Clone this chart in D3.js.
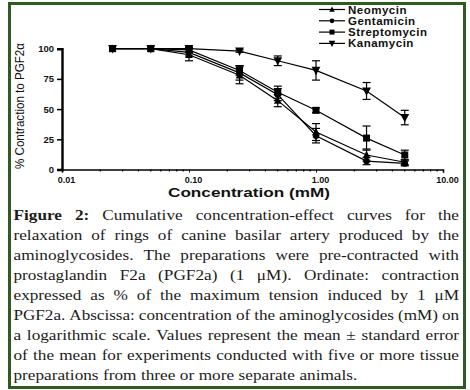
<!DOCTYPE html>
<html>
<head>
<meta charset="utf-8">
<script src="https://cdn.jsdelivr.net/npm/d3@7"></script>
<style>
  body { margin: 0; background: #fff; }
  svg { display: block; }
</style>
</head>
<body>
<svg id="chart" width="470" height="390"></svg>
<script>
// concentrations (mM)
const conc = [0.025, 0.05, 0.1, 0.25, 0.5, 1, 2.5, 5]

// % contraction to PGF2a, mean and s.e.m.
const neomycin = [100, 100, 95, 78, 57, 31, 12, 6]
const neomycinErr = [0, 0, 5, 7, 5, 7, 5, 2]
const gentamicin = [100, 100, 97, 80, 62, 28, 7, 5]
const gentamicinErr = [0, 0, 3, 6, 5, 6, 3, 2]
const streptomycin = [100, 100, 99, 82, 64, 49, 26, 12]
const streptomycinErr = [0, 0, 2, 4, 5, 2, 10, 4]
const kanamycin = [100, 100, 100, 98, 90, 82, 65, 43]
const kanamycinErr = [0, 0, 0, 1, 4, 8, 7, 6]

const seriesNames = ['Neomycin', 'Gentamicin', 'Streptomycin', 'Kanamycin']
const seriesSymbols = ['triangle', 'circle', 'square', 'triangleDown']
const seriesValues = [neomycin, gentamicin, streptomycin, kanamycin]
const seriesErrors = [neomycinErr, gentamicinErr, streptomycinErr, kanamycinErr]

const xTicks = [0.01, 0.1, 1, 10]
const xTickLabels = ['0.01', '0.10', '1.00', '10.00']
const yTicks = [0, 25, 50, 75, 100]

const captionLines = [
	'Figure 2: Cumulative concentration-effect curves for the',
	'relaxation of rings of canine basilar artery produced by the',
	'aminoglycosides. The preparations were pre-contracted with',
	'prostaglandin F2a (PGF2a) (1 μM). Ordinate: contraction',
	'expressed as % of the maximum tension induced by 1 μM',
	'PGF2a. Abscissa: concentration of the aminoglycosides (mM) on',
	'a logarithmic scale. Values represent the mean ± standard error',
	'of the mean for experiments conducted with five or more tissue',
	'preparations from three or more separate animals.'
]

const svg = d3.select('#chart')

// frame
svg.append('rect')
	.attr('x', 9.5).attr('y', 3.5)
	.attr('width', 455).attr('height', 384)
	.attr('fill', 'none')
	.attr('stroke', '#2f5a22')
	.attr('stroke-width', 3)

// scales
const x = d3.scaleLog().domain([0.01, 10]).range([62, 443])
const y = d3.scaleLinear().domain([0, 100]).range([169.5, 48.7])

const plot = svg.append('g')

// x axis: majors + log minors
const xAxis = d3.axisBottom(x)
	.tickValues(xTicks)
	.tickFormat((d, i) => xTickLabels[i])
	.tickSize(3)
	.tickPadding(4)
const gx = plot.append('g')
	.attr('transform', `translate(0,${y(0)})`)
	.call(xAxis)
gx.select('.domain').attr('stroke', '#000').attr('stroke-width', 1.6)
gx.selectAll('text')
	.attr('font-family', 'Liberation Sans, Arial, sans-serif')
	.attr('font-weight', 'bold')
	.attr('font-size', 9)
	.attr('dx', 4)
	.attr('fill', '#111')

const minors = []
for (const d of [0.01, 0.1, 1]) {
	for (let k = 2; k <= 9; k++) minors.push(d * k)
}
gx.selectAll('.minor')
	.data(minors)
	.enter()
	.append('line')
	.attr('class', 'minor')
	.attr('x1', (d) => x(d)).attr('x2', (d) => x(d))
	.attr('y1', 0).attr('y2', 2)
	.attr('stroke', '#000')
	.attr('stroke-width', 1.2)

// y axis
const yAxis = d3.axisLeft(y)
	.tickValues(yTicks)
	.tickSize(5)
	.tickPadding(3)
const gy = plot.append('g')
	.attr('transform', `translate(${x(0.01)},0)`)
	.call(yAxis)
gy.select('.domain').attr('stroke', '#000').attr('stroke-width', 2.4)
gy.selectAll('.tick line').attr('stroke-width', 1.5)
gy.selectAll('text')
	.attr('font-family', 'Liberation Sans, Arial, sans-serif')
	.attr('font-weight', 'bold')
	.attr('font-size', 9.5)
	.attr('fill', '#111')

// axis titles
svg.append('text')
	.attr('x', 249).attr('y', 197)
	.attr('text-anchor', 'middle')
	.attr('font-family', 'Liberation Sans, Arial, sans-serif')
	.attr('font-weight', 'bold')
	.attr('font-size', 13)
	.attr('textLength', 162)
	.attr('lengthAdjust', 'spacingAndGlyphs')
	.attr('fill', '#111')
	.text('Concentration (mM)')

svg.append('text')
	.attr('transform', 'translate(24,106) rotate(-90)')
	.attr('text-anchor', 'middle')
	.attr('font-family', 'Liberation Sans Narrow, Liberation Sans, Arial, sans-serif')
	.attr('font-size', 13)
	.attr('textLength', 126)
	.attr('lengthAdjust', 'spacingAndGlyphs')
	.attr('fill', '#111')
	.text('% Contraction to PGF2α')

// symbols
const symbolPath = (name, size) => {
	const s = size
	if (name === 'square') return `M${-s / 2},${-s / 2}h${s}v${s}h${-s}Z`
	if (name === 'circle') return d3.symbol(d3.symbolCircle, s * s * 0.7)()
	if (name === 'triangle') return `M0,${-s * 0.6}L${s * 0.55},${s * 0.45}L${-s * 0.55},${s * 0.45}Z`
	return `M0,${s * 0.6}L${s * 0.55},${-s * 0.45}L${-s * 0.55},${-s * 0.45}Z`
}
const symbolSize = { square: 7, circle: 7, triangle: 7, triangleDown: 8 }

const line = d3.line()
	.x((d) => x(d[0]))
	.y((d) => y(d[1]))

seriesValues.forEach((vals, i) => {
	const pts = conc.map((c, j) => [c, vals[j], seriesErrors[i][j]])
	const g = plot.append('g')

	g.append('path')
		.datum(pts)
		.attr('d', line)
		.attr('fill', 'none')
		.attr('stroke', '#000')
		.attr('stroke-width', 1.2)

	const eb = g.selectAll('.err')
		.data(pts.filter((d) => d[2] > 0))
		.enter()
		.append('g')
		.attr('stroke', '#000')
		.attr('stroke-width', 1.2)
	eb.append('line')
		.attr('x1', (d) => x(d[0])).attr('x2', (d) => x(d[0]))
		.attr('y1', (d) => y(d[1] - d[2])).attr('y2', (d) => y(d[1] + d[2]))
	eb.append('line')
		.attr('x1', (d) => x(d[0]) - 4).attr('x2', (d) => x(d[0]) + 4)
		.attr('y1', (d) => y(d[1] - d[2])).attr('y2', (d) => y(d[1] - d[2]))
	eb.append('line')
		.attr('x1', (d) => x(d[0]) - 4).attr('x2', (d) => x(d[0]) + 4)
		.attr('y1', (d) => y(d[1] + d[2])).attr('y2', (d) => y(d[1] + d[2]))

	const sym = seriesSymbols[i]
	g.selectAll('.pt')
		.data(pts)
		.enter()
		.append('path')
		.attr('transform', (d) => `translate(${x(d[0])},${y(d[1])})`)
		.attr('d', symbolPath(sym, symbolSize[sym]))
		.attr('fill', '#000')
})

// legend
const legend = svg.append('g')
	.selectAll('g')
	.data(seriesNames)
	.enter()
	.append('g')
	.attr('transform', (d, i) => `translate(319,${9.5 + i * 11.3})`)
legend.append('line')
	.attr('x1', 0).attr('x2', 26)
	.attr('stroke', '#000').attr('stroke-width', 1.2)
legend.append('path')
	.attr('transform', 'translate(13,0)')
	.attr('d', (d, i) => symbolPath(seriesSymbols[i], symbolSize[seriesSymbols[i]] - 2))
	.attr('fill', '#000')
legend.append('text')
	.attr('x', 29).attr('y', 4)
	.attr('font-family', 'Liberation Sans, Arial, sans-serif')
	.attr('font-weight', 'bold')
	.attr('font-size', 11.5)
	.attr('letter-spacing', 0.5)
	.attr('fill', '#111')
	.text((d) => d)

// caption, justified; words stretched a little to match the wider serif
const capLeft = 13.5
const capRight = 459
const stretch = 1.11
captionLines.forEach((txt, li) => {
	const yPos = 219.5 + li * 20
	const words = txt.split(' ')
	const nodes = words.map((w, wi) => {
		const bold = li === 0 && wi < 2
		return svg.append('text')
			.attr('y', yPos)
			.attr('font-family', 'Liberation Serif, Times New Roman, serif')
			.attr('font-size', 15.5)
			.attr('font-weight', bold ? 'bold' : 'normal')
			.attr('fill', '#1c1c1c')
			.text(w)
	})
	const raw = nodes.map((n) => n.node().getComputedTextLength())
	const last = li === captionLines.length - 1
	const minGap = 4
	const avail = capRight - capLeft - minGap * (words.length - 1)
	const k = Math.min(stretch, avail / d3.sum(raw))
	const widths = raw.map((w) => w * k)
	nodes.forEach((n, j) => {
		n.attr('textLength', widths[j]).attr('lengthAdjust', 'spacingAndGlyphs')
	})
	const total = d3.sum(widths)
	const gap = last ? 4.5 : (capRight - capLeft - total) / (words.length - 1)
	let cx = capLeft
	nodes.forEach((n, j) => {
		n.attr('x', cx)
		cx += widths[j] + gap
	})
})
</script>
</body>
</html>
